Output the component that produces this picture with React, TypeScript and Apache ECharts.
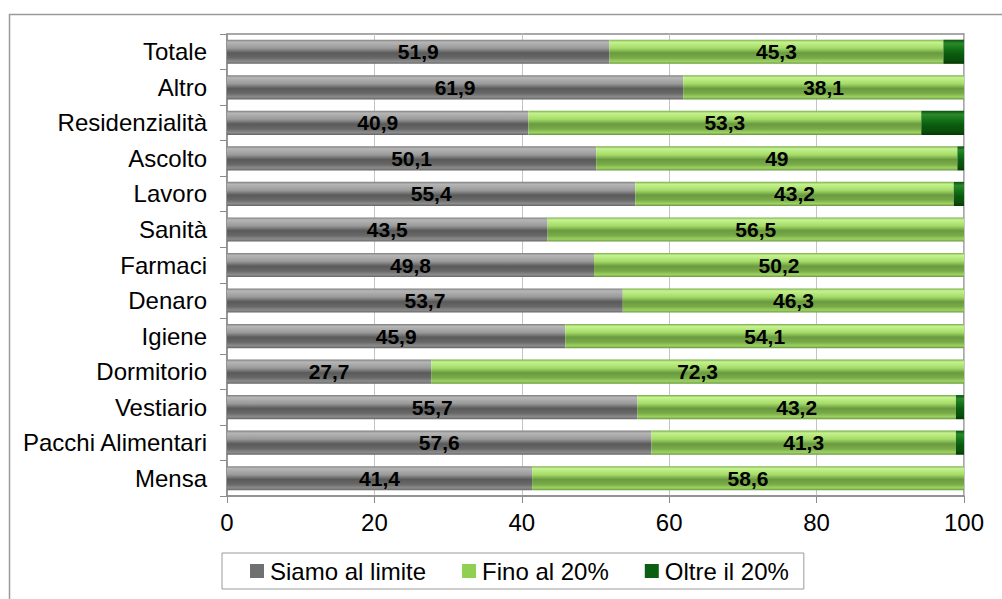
import React, { useEffect, useRef } from "react";
import * as echarts from "echarts";

const categories = [
  "Totale", "Altro", "Residenzialità", "Ascolto", "Lavoro", "Sanità", "Farmaci",
  "Denaro", "Igiene", "Dormitorio", "Vestiario", "Pacchi Alimentari", "Mensa",
];
const siamoAlLimite = [51.9, 61.9, 40.9, 50.1, 55.4, 43.5, 49.8, 53.7, 45.9, 27.7, 55.7, 57.6, 41.4];
const finoAl20 = [45.3, 38.1, 53.3, 49, 43.2, 56.5, 50.2, 46.3, 54.1, 72.3, 43.2, 41.3, 58.6];
const oltreIl20 = [2.8, 0, 5.8, 0.9, 1.4, 0, 0, 0, 0, 0, 1.1, 1.1, 0];
const xTicks = [0, 20, 40, 60, 80, 100];

const FONT = "'Liberation Sans', Arial, sans-serif";

const grad = (stops: [number, string][]) =>
  new echarts.graphic.LinearGradient(0, 0, 0, 1, stops.map(([offset, color]) => ({ offset, color })));

export default function App() {
  const ref = useRef<HTMLDivElement>(null);
  useEffect(() => {
    const chart = echarts.init(ref.current!, null, { renderer: "svg" });
    const label = {
      show: true,
      position: "inside",
      color: "#000",
      fontFamily: FONT,
      fontWeight: "bold",
      fontSize: 21,
      formatter: (p: any) => String(p.value).replace(".", ","),
    };
    chart.setOption({
      animation: false,
      textStyle: { fontFamily: FONT },
      graphic: [
        {
          type: "rect",
          shape: { x: 9.5, y: 14.5, width: 1010, height: 620 },
          style: { fill: "none", stroke: "#9a9a9a", lineWidth: 1.5 },
          silent: true,
          z: -10,
        },
      ],
      grid: { left: 227, right: 38, top: 34, bottom: 103, show: true, borderColor: "#8c8c8c", borderWidth: 1.5 },
      legend: {
        left: 222,
        top: 553,
        padding: [6, 15, 6, 28],
        borderColor: "#9a9a9a",
        borderWidth: 1,
        itemGap: 36,
        itemWidth: 14,
        itemHeight: 14,
        icon: "rect",
        textStyle: { fontFamily: FONT, fontSize: 24, color: "#000", padding: [0, 0, 0, 1] },
        data: [
          { name: "Siamo al limite", itemStyle: { color: "#707070" } },
          { name: "Fino al 20%", itemStyle: { color: "#8fd052" } },
          { name: "Oltre il 20%", itemStyle: { color: "#0b5e12" } },
        ],
      },
      xAxis: {
        type: "value",
        min: xTicks[0],
        max: xTicks[xTicks.length - 1],
        interval: 20,
        axisLine: { show: true, lineStyle: { color: "#8c8c8c", width: 1.5 } },
        axisTick: { show: true, length: 7, lineStyle: { color: "#8c8c8c" } },
        splitLine: { show: true, lineStyle: { color: "#c4c4c4", width: 1 } },
        axisLabel: { fontFamily: FONT, fontSize: 24, color: "#000", margin: 14 },
      },
      yAxis: {
        type: "category",
        data: categories,
        inverse: true,
        axisLine: { show: true, lineStyle: { color: "#8c8c8c", width: 1.5 } },
        axisTick: { show: true, length: 7, lineStyle: { color: "#8c8c8c" } },
        axisLabel: { fontFamily: FONT, fontSize: 24, color: "#000", margin: 20 },
      },
      series: [
        {
          name: "Siamo al limite",
          type: "bar",
          stack: "t",
          barCategoryGap: "32%",
          data: siamoAlLimite,
          label,
          itemStyle: {
            color: grad([
              [0, "#7e7e7e"],
              [0.1, "#b6b6b6"],
              [0.35, "#9a9a9a"],
              [0.55, "#5a5a5a"],
              [0.75, "#686868"],
              [0.9, "#8c8c8c"],
              [1, "#666666"],
            ]),
          },
        },
        {
          name: "Fino al 20%",
          type: "bar",
          stack: "t",
          data: finoAl20,
          label,
          itemStyle: {
            color: grad([
              [0, "#78ad48"],
              [0.1, "#c6f290"],
              [0.35, "#a4dc68"],
              [0.55, "#6a9a40"],
              [0.75, "#78ab47"],
              [0.9, "#9ed262"],
              [1, "#689840"],
            ]),
          },
        },
        {
          name: "Oltre il 20%",
          type: "bar",
          stack: "t",
          data: oltreIl20,
          label: { show: false },
          itemStyle: {
            color: grad([
              [0, "#0c4f0c"],
              [0.15, "#2a8a2a"],
              [0.4, "#137016"],
              [0.6, "#0a5a0e"],
              [0.85, "#0a4e0a"],
              [1, "#063806"],
            ]),
          },
        },
      ],
    });
    return () => chart.dispose();
  }, []);
  return (
    <div
      ref={ref}
      style={{ position: "fixed", left: 0, top: 0, width: 1002, height: 599, background: "#fff" }}
    />
  );
}
